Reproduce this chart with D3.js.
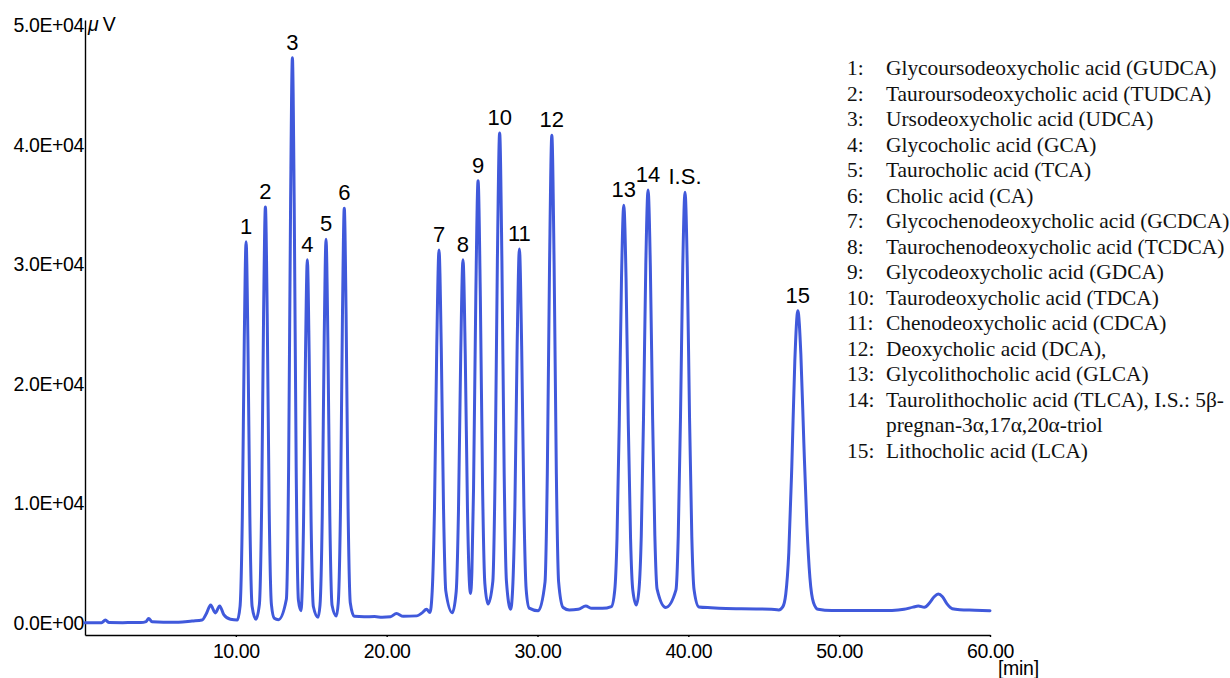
<!DOCTYPE html>
<html>
<head>
<meta charset="utf-8">
<script src="https://cdn.jsdelivr.net/npm/d3@7"></script>
<style>
  html, body { margin: 0; padding: 0; background: #fff; }
  svg { display: block; }
  .axis text { font-family: "Liberation Sans", Arial, sans-serif; font-size: 19.5px; letter-spacing: -0.4px; fill: #000; }
  .axis path, .axis line { stroke: #000; stroke-width: 1.4px; }
  .peak-label { font-family: "Liberation Sans", Arial, sans-serif; font-size: 22px; fill: #000; }
  .legend text { font-family: "Liberation Serif", "Times New Roman", serif; font-size: 21.4px; fill: #111; }
</style>
</head>
<body>
<svg id="chart" width="1230" height="678"></svg>
<script>
// chromatogram trace, [minutes, µV]
const trace = [
  [0.0, 30], [1.1, 30], [1.35, 250], [1.6, 40], [2.5, 30], [3.2, 50], [3.7, 40], [4.05, 120], [4.22, 390], [4.45, 100],
  [5.2, 60], [6.2, 70], [7.1, 170], [7.76, 250], [8.05, 800], [8.33, 1500], [8.64, 850], [8.93, 1430], [9.2, 700],
  [9.64, 310], [10.1, 250],
  // 1
  [10.28, 1390], [10.43, 8860], [10.56, 23700], [10.68, 31900], [10.80, 23700], [10.93, 8860], [11.08, 1390], [11.33, 320],
  // 2
  [11.56, 1540], [11.71, 9680], [11.84, 25860], [11.96, 34800], [12.08, 25860], [12.21, 9680], [12.36, 1540], [12.55, 400], [12.82, 280],
  // 3
  [13.35, 1990], [13.50, 13080], [13.63, 35130], [13.75, 47300], [13.87, 35130], [14.00, 13080], [14.15, 1900], [14.32, 1030],
  // 4
  [14.49, 8490], [14.62, 22600], [14.74, 30400], [14.86, 22600], [14.99, 8490], [15.14, 1380], [15.45, 480],
  // 5
  [15.58, 1490], [15.73, 8990], [15.86, 23880], [15.98, 32100], [16.10, 23880], [16.23, 8990], [16.38, 1490], [16.66, 590],
  // 6
  [16.79, 1680], [16.94, 9770], [17.07, 25830], [17.19, 34700], [17.31, 25830], [17.44, 9770], [17.59, 1680], [17.85, 560],
  [18.5, 520], [19.2, 540], [19.7, 490], [20.25, 530], [20.65, 800], [21.1, 560], [22.0, 600], [22.35, 850], [22.64, 1150], [22.87, 880],
  // 7
  [23.02, 2690], [23.17, 9580], [23.32, 23070], [23.47, 31200], [23.62, 23070], [23.77, 9580], [23.92, 2690], [24.35, 860],
  // 8
  [24.61, 2640], [24.76, 9350], [24.91, 22480], [25.06, 30400], [25.21, 22480], [25.36, 9350], [25.47, 3800], [25.56, 2480],
  // 9
  [25.65, 4300], [25.76, 11280], [25.91, 27330], [26.06, 37000], [26.21, 27330], [26.36, 11280], [26.51, 3300], [26.72, 1590],
  // 10
  [27.04, 3510], [27.19, 12570], [27.34, 30310], [27.49, 41000], [27.64, 30310], [27.79, 12570], [27.94, 3510], [28.22, 1150],
  // 11
  [28.35, 2790], [28.50, 9680], [28.65, 23170], [28.80, 31300], [28.95, 23170], [29.10, 9680], [29.25, 2790], [29.45, 1250], [30.05, 1030],
  // 12
  [30.50, 3450], [30.65, 12480], [30.80, 30150], [30.95, 40800], [31.10, 30150], [31.25, 12480], [31.40, 3450], [31.7, 1300],
  [32.1, 1090], [32.7, 1150], [33.2, 1420], [33.6, 1230], [34.3, 1230], [34.9, 1380],
  // 13
  [35.12, 2730], [35.27, 7050], [35.42, 16680], [35.57, 28880], [35.72, 34950], [35.87, 28880], [36.02, 16680], [36.17, 7050], [36.32, 2730], [36.55, 1510],
  // 14
  [36.73, 2840], [36.88, 7310], [37.03, 17300], [37.18, 29940], [37.33, 36230], [37.48, 29940], [37.63, 17300], [37.78, 7310], [37.93, 2840], [38.5, 1310],
  // I.S.
  [39.18, 2780], [39.33, 7230], [39.48, 17180], [39.63, 29780], [39.78, 36040], [39.93, 29780], [40.08, 17180], [40.23, 7230], [40.38, 2780],
  [40.7, 1350], [41.5, 1280], [42.5, 1220], [43.5, 1200], [44.5, 1180], [45.5, 1150], [46.0, 1100],
  // 15
  [46.26, 1350], [46.46, 2430], [46.66, 5880], [46.86, 13110], [47.06, 21920], [47.26, 26130], [47.46, 22500], [47.66, 15000],
  [47.86, 8200], [48.06, 3800], [48.3, 1700], [48.6, 1150],
  [49.5, 1050], [50.5, 1050], [51.5, 1060], [52.5, 1050], [53.5, 1060], [54.3, 1150], [54.9, 1330], [55.25, 1420], [55.65, 1320],
  [56.0, 1700], [56.3, 2200], [56.57, 2430], [56.85, 2200], [57.15, 1600], [57.5, 1200], [58.0, 1120], [59.0, 1080], [60.0, 1030]
];

// peak labels
const peakNames = ["1", "2", "3", "4", "5", "6", "7", "8", "9", "10", "11", "12", "13", "14", "I.S.", "15"];
const peakMinutes = [10.68, 11.96, 13.75, 14.74, 15.98, 17.19, 23.47, 25.06, 26.06, 27.49, 28.80, 30.95, 35.72, 37.33, 39.78, 47.26];
const peakHeights = [31900, 34800, 47300, 30400, 32100, 34700, 31200, 30400, 37000, 41000, 31300, 40800, 34950, 36230, 36040, 26130];

// axes
const xTickValues = [10, 20, 30, 40, 50, 60];
const xTickLabels = ["10.00", "20.00", "30.00", "40.00", "50.00", "60.00"];
const yTickValues = [0, 10000, 20000, 30000, 40000, 50000];
const yTickLabels = ["0.0E+00", "1.0E+04", "2.0E+04", "3.0E+04", "4.0E+04", "5.0E+04"];

// legend
const legendKeys = ["1:", "2:", "3:", "4:", "5:", "6:", "7:", "8:", "9:", "10:", "11:", "12:", "13:", "14:", "", "15:"];
const legendNames = [
  "Glycoursodeoxycholic acid (GUDCA)",
  "Tauroursodeoxycholic acid (TUDCA)",
  "Ursodeoxycholic acid (UDCA)",
  "Glycocholic acid (GCA)",
  "Taurocholic acid (TCA)",
  "Cholic acid (CA)",
  "Glycochenodeoxycholic acid (GCDCA)",
  "Taurochenodeoxycholic acid (TCDCA)",
  "Glycodeoxycholic acid (GDCA)",
  "Taurodeoxycholic acid (TDCA)",
  "Chenodeoxycholic acid (CDCA)",
  "Deoxycholic acid (DCA),",
  "Glycolithocholic acid (GLCA)",
  "Taurolithocholic acid (TLCA), I.S.: 5β-",
  "pregnan-3α,17α,20α-triol",
  "Lithocholic acid (LCA)"
];

const svg = d3.select("#chart");

const x = d3.scaleLinear().domain([0, 60]).range([85, 990]);
const y = d3.scaleLinear().domain([-1000, 50450]).range([635, 20]);

// x axis
svg.append("g")
  .attr("class", "axis")
  .attr("transform", `translate(0,${y(-1000)})`)
  .call(d3.axisBottom(x)
    .tickValues(xTickValues)
    .tickFormat((d, i) => xTickLabels[i])
    .tickSizeInner(2)
    .tickSizeOuter(0)
    .tickPadding(7));

// y axis
svg.append("g")
  .attr("class", "axis")
  .attr("transform", `translate(${x(0)},0)`)
  .call(d3.axisLeft(y)
    .tickValues(yTickValues)
    .tickFormat((d, i) => yTickLabels[i])
    .tickSizeInner(0)
    .tickSizeOuter(0)
    .tickPadding(1));

// units
const unitY = svg.append("text")
  .attr("x", x(0) + 3)
  .attr("y", y(50000) + 6)
  .style("font-family", "Liberation Sans, Arial, sans-serif")
  .style("font-size", "19.5px");
unitY.append("tspan").style("font-style", "italic").text("μ");
unitY.append("tspan").attr("dx", 4).text("V");

svg.append("text")
  .attr("x", x(60) + 8)
  .attr("y", y(-1000) + 40)
  .style("font-family", "Liberation Sans, Arial, sans-serif")
  .style("font-size", "19.5px")
  .style("letter-spacing", "-0.3px")
  .text("[min]");

// trace
const line = d3.line()
  .x(d => x(d[0]))
  .y(d => y(d[1]))
  .curve(d3.curveMonotoneX);

svg.append("path")
  .datum(trace)
  .attr("fill", "none")
  .attr("stroke", "#4059db")
  .attr("stroke-width", 3)
  .attr("stroke-linejoin", "round")
  .attr("stroke-linecap", "round")
  .attr("d", line);

// peak numbers
svg.append("g")
  .selectAll("text")
  .data(peakNames)
  .join("text")
  .attr("class", "peak-label")
  .attr("text-anchor", "middle")
  .attr("x", (d, i) => x(peakMinutes[i]))
  .attr("y", (d, i) => y(peakHeights[i]) - 8)
  .text(d => d);

// legend
const legend = svg.append("g").attr("class", "legend");
legend.selectAll("text.key")
  .data(legendKeys)
  .join("text")
  .attr("class", "key")
  .attr("x", 847)
  .attr("y", (d, i) => 75 + i * 25.5)
  .text(d => d);
legend.selectAll("text.name")
  .data(legendNames)
  .join("text")
  .attr("class", "name")
  .attr("x", 886)
  .attr("y", (d, i) => 75 + i * 25.5)
  .text(d => d);
</script>
</body>
</html>
